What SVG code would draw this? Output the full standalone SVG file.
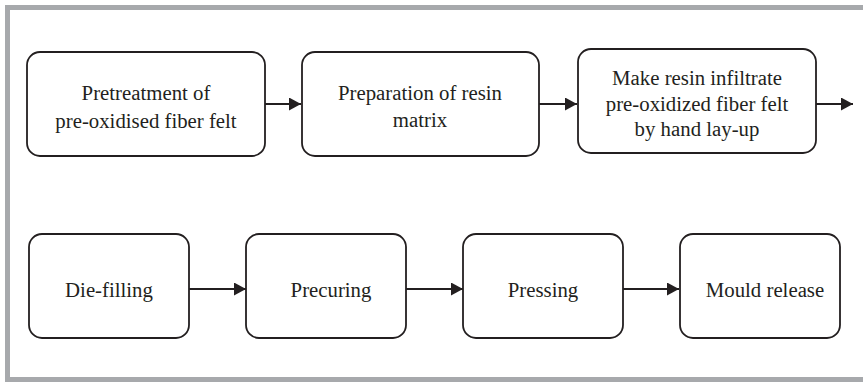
<svg xmlns="http://www.w3.org/2000/svg" width="863" height="383" viewBox="0 0 863 383">
<defs>
<style>
.box{fill:#fff;stroke:#231f20;stroke-width:1.8}
.t{font-family:"Liberation Serif","Times New Roman",serif;font-size:20.8px;fill:#231f20;text-anchor:middle}
.c{stroke:#231f20;stroke-width:2;fill:none}
</style>
<marker id="ah" viewBox="0 0 12 13" refX="12" refY="6.5" markerWidth="12" markerHeight="13" markerUnits="userSpaceOnUse" orient="auto">
<path d="M0,0 L12,6.5 L0,13 Z" fill="#231f20"/>
</marker>
</defs>
<rect width="863" height="383" fill="#fff"/>
<path d="M870,7.5 H7.5 V379.5 H870" fill="none" stroke="#a7a9ac" stroke-width="5"/>
<g id="n1"><rect class="box" x="27" y="52" width="238" height="104" rx="13"/>
<text class="t" x="146" y="100">Pretreatment of</text><text class="t" x="146" y="127.5">pre-oxidised fiber felt</text></g>
<g id="n2"><rect class="box" x="302" y="52" width="237" height="104" rx="13"/>
<text class="t" x="420" y="100">Preparation of resin</text><text class="t" x="420" y="127">matrix</text></g>
<g id="n3"><rect class="box" x="578" y="49" width="238" height="104" rx="13"/>
<text class="t" x="697" y="85">Make resin infiltrate</text><text class="t" x="697" y="110.5">pre-oxidized fiber felt</text><text class="t" x="697" y="136">by hand lay-up</text></g>
<g id="n4"><rect class="box" x="29" y="234" width="160" height="104" rx="13"/>
<text class="t" x="109" y="297">Die-filling</text></g>
<g id="n5"><rect class="box" x="246" y="234" width="160" height="104" rx="13"/>
<text class="t" x="331" y="297">Precuring</text></g>
<g id="n6"><rect class="box" x="463" y="234" width="160" height="104" rx="13"/>
<text class="t" x="543" y="297">Pressing</text></g>
<g id="n7"><rect class="box" x="680" y="234" width="160" height="104" rx="13"/>
<text class="t" x="765" y="297">Mould release</text></g>
<g id="connectors">
<line class="c" x1="265" y1="104" x2="301" y2="104" marker-end="url(#ah)"/>
<line class="c" x1="539" y1="104" x2="577" y2="104" marker-end="url(#ah)"/>
<line class="c" x1="816" y1="104" x2="853" y2="104" marker-end="url(#ah)"/>
<line class="c" x1="189" y1="289" x2="246" y2="289" marker-end="url(#ah)"/>
<line class="c" x1="406" y1="289" x2="463" y2="289" marker-end="url(#ah)"/>
<line class="c" x1="623" y1="289" x2="679" y2="289" marker-end="url(#ah)"/>
</g>
</svg>
